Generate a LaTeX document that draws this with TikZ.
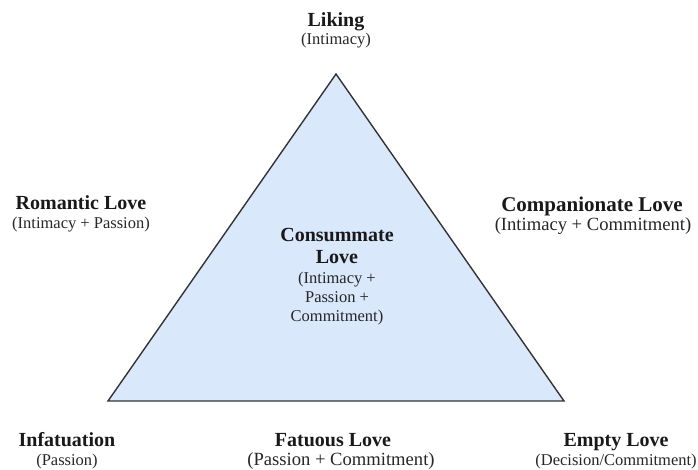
\documentclass[tikz,border=0pt]{standalone}
\usepackage{fontspec}
\setmainfont{Liberation Serif}
\definecolor{trifill}{HTML}{DAE8FC}
\definecolor{triline}{HTML}{333333}
\begin{document}
\begin{tikzpicture}[x=1pt,y=-1pt,
  ttl/.style={font=\fontsize{20}{22}\selectfont\bfseries, text=black!90, anchor=base, inner sep=0pt},
  sub/.style={font=\fontsize{16.5}{19}\selectfont, text=black!85, anchor=base, inner sep=0pt},
  bigttl/.style={ttl, font=\fontsize{21}{23}\selectfont\bfseries},
  bigsub/.style={sub, font=\fontsize{18.6}{21}\selectfont}]
\useasboundingbox (0,0) rectangle (698,470);
\coordinate (apex) at (336,74);
\coordinate (bl) at (108,401);
\coordinate (br) at (564,401);
\path[fill=trifill, draw=triline, line width=1.4pt, line join=miter] (apex) -- (br) -- (bl) -- cycle;

\node[ttl] (liking) at (336,27) {Liking};
\node[sub] (likingS) at (336,45) {(Intimacy)};

\node[ttl] (rom) at (81,210) {Romantic Love};
\node[sub] (romS) at (81,229) {(Intimacy + Passion)};

\node[bigttl] (comp) at (592,212) {Companionate Love};
\node[bigsub] (compS) at (593,231) {(Intimacy + Commitment)};

\node[ttl] (cons1) at (337,242) {Consummate};
\node[ttl] (cons2) at (337,263) {Love};
\node[sub] (cons3) at (337,283) {(Intimacy +};
\node[sub] (cons4) at (337,302) {Passion +};
\node[sub] (cons5) at (337,321) {Commitment)};

\node[ttl] (inf) at (67,446) {Infatuation};
\node[sub] (infS) at (67,465) {(Passion)};

\node[ttl] (fat) at (333,446) {Fatuous Love};
\node[bigsub] (fatS) at (341,465) {(Passion + Commitment)};

\node[ttl] (emp) at (616,446) {Empty Love};
\node[sub] (empS) at (616,465) {(Decision/Commitment)};
\end{tikzpicture}
\end{document}
